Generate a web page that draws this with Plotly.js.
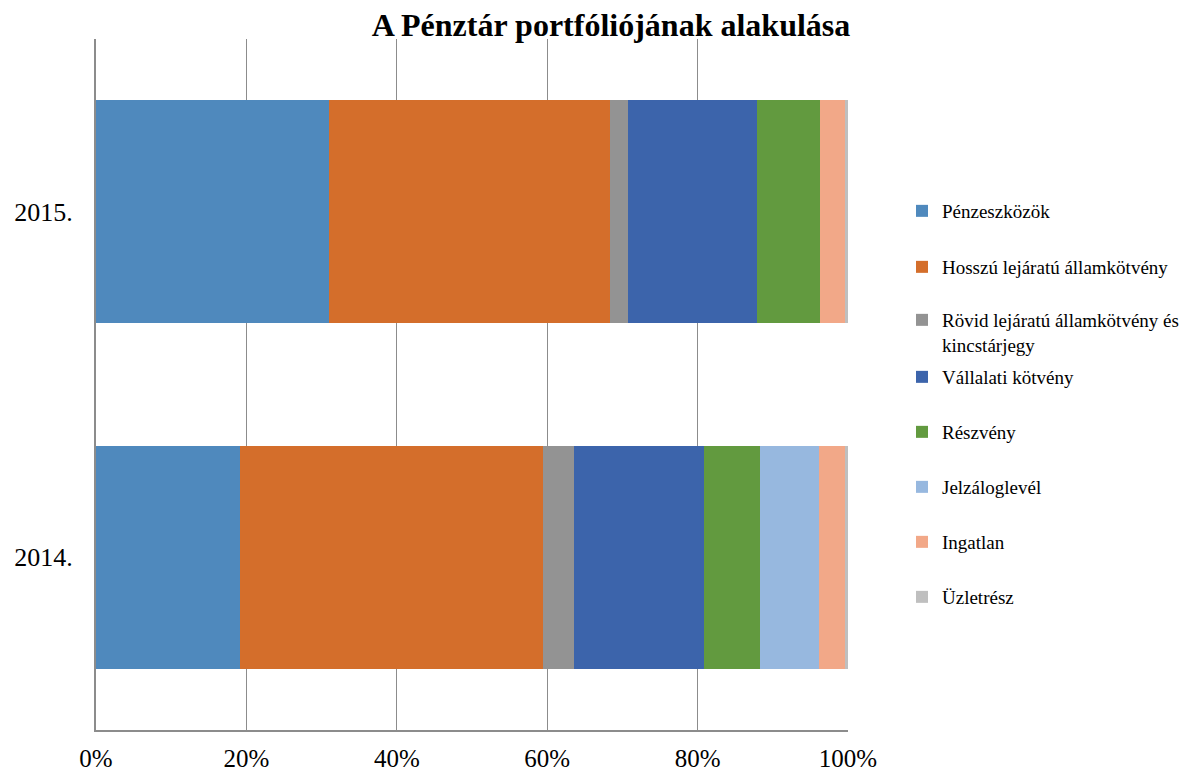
<!DOCTYPE html>
<html>
<head>
<meta charset="utf-8">
<script src="https://cdn.plot.ly/plotly-3.0.1.min.js"></script>
<style>html,body{margin:0;padding:0;background:#fff;}#chart{width:1182px;height:771px;}</style>
</head>
<body>
<div id="chart"></div>
<script>
const years = ["2014.", "2015."];
const seriesNames = [
  "Pénzeszközök",
  "Hosszú lejáratú államkötvény",
  "Rövid lejáratú államkötvény és<br>kincstárjegy",
  "Vállalati kötvény",
  "Részvény",
  "Jelzáloglevél",
  "Ingatlan",
  "Üzletrész"
];
const penzeszkozok = [19.15, 31.0];
const hosszu = [40.25, 37.37];
const rovid = [4.12, 2.35];
const vallalati = [17.37, 17.23];
const reszveny = [7.41, 8.34];
const jelzalog = [7.89, 0.0];
const ingatlan = [3.42, 3.32];
const uzletresz = [0.4, 0.4];
const seriesValues = [penzeszkozok, hosszu, rovid, vallalati, reszveny, jelzalog, ingatlan, uzletresz];
const colors = ["#4f89bd", "#d46e2b", "#939393", "#3c64ab", "#629a3f", "#97b8df", "#f2a888", "#bfbfbf"];
const xTicks = [0, 20, 40, 60, 80, 100];
const xTickText = ["0%", "20%", "40%", "60%", "80%", "100%"];

// legend text-centre pixel rows
const legendRows = [211, 267, 322, 377, 432, 487, 542, 597];

const plotTop = 39, plotBottom = 730, plotLeft = 96, plotRight = 848;
const legendNames = ["legend","legend2","legend3","legend4","legend5","legend6","legend7","legend8"];
const serif = "Liberation Serif, Times New Roman, serif";

const traces = seriesNames.map((n, i) => ({
  type: "bar",
  orientation: "h",
  name: n,
  y: years,
  x: seriesValues[i],
  marker: {color: colors[i], line: {width: 0}},
  legend: legendNames[i],
  hoverinfo: "x+name"
}));

const layout = {
  width: 1182,
  height: 771,
  margin: {l: plotLeft, r: 1182 - plotRight, t: plotTop, b: 771 - plotBottom, pad: 0, autoexpand: false},
  paper_bgcolor: "#ffffff",
  plot_bgcolor: "#ffffff",
  barmode: "stack",
  bargap: 0.355,
  font: {family: serif, color: "#000"},
  title: {
    text: "<b>A Pénztár portfóliójának alakulása</b>",
    font: {family: serif, size: 32, color: "#000"},
    xref: "container", x: 611 / 1182, xanchor: "center",
    yref: "container", y: 1 - 25 / 771, yanchor: "middle"
  },
  xaxis: {
    range: [0, 100],
    tickvals: xTicks,
    ticktext: xTickText,
    tickfont: {size: 25, family: serif},
    showgrid: true,
    gridcolor: "#8c8c8c",
    gridwidth: 1,
    showline: true,
    linecolor: "#8c8c8c",
    linewidth: 2,
    ticks: "",
    ticklabelstandoff: 5,
    zeroline: false,
    fixedrange: true,
    automargin: false
  },
  yaxis: {
    type: "category",
    categoryorder: "array",
    categoryarray: years,
    tickfont: {size: 26, family: serif},
    showline: true,
    linecolor: "#8c8c8c",
    linewidth: 2,
    showgrid: false,
    ticks: "",
    ticklabelstandoff: 16,
    fixedrange: true,
    automargin: false
  },
  showlegend: true
};

legendNames.forEach((ln, i) => {
  const multi = seriesNames[i].indexOf("<br>") >= 0;
  layout[ln] = {
    x: (902 - plotLeft) / (plotRight - plotLeft),
    xanchor: "left",
    y: multi ? (plotBottom - (legendRows[i] - 21)) / (plotBottom - plotTop) : (plotBottom - legendRows[i]) / (plotBottom - plotTop),
    yanchor: multi ? "top" : "middle",
    valign: "top",
    bgcolor: "rgba(0,0,0,0)",
    borderwidth: 0,
    font: {size: 19, family: serif, color: "#000"},
    itemclick: false,
    itemdoubleclick: false
  };
});

Plotly.newPlot("chart", traces, layout, {displayModeBar: false, staticPlot: true});
</script>
</body>
</html>
